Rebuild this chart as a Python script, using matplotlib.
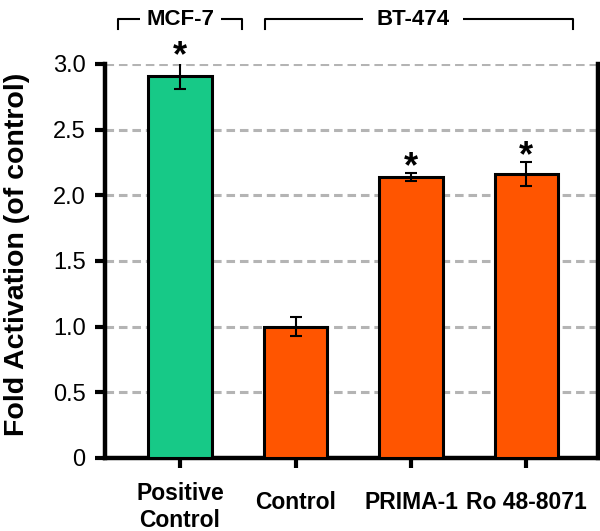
import numpy as np
import matplotlib.pyplot as plt

plt.rcParams['font.family'] = ['Liberation Sans', 'DejaVu Sans']

labels = ['Positive\nControl', 'Control', 'PRIMA-1', 'Ro 48-8071']
values = [2.91, 1.00, 2.14, 2.16]
errors = [0.10, 0.07, 0.03, 0.09]
colors = ['#17C987', '#FF5500', '#FF5500', '#FF5500']
significant = [True, False, True, True]
yticks = [0, 0.5, 1.0, 1.5, 2.0, 2.5, 3.0]
ytick_labels = ['0', '0.5', '1.0', '1.5', '2.0', '2.5', '3.0']

fig = plt.figure(figsize=(6, 5.31), dpi=100)
ax = fig.add_axes([0.175, 0.1375, 0.8217, 0.742])

x = np.arange(len(labels))
ax.bar(x, values, width=0.55, color=colors, edgecolor='black', linewidth=2.2, zorder=3)
ax.errorbar(x, values, yerr=errors, fmt='none', ecolor='black', elinewidth=1.5,
            capsize=4, capthick=1.5, zorder=4)

for xi, v, e, sig in zip(x, values, errors, significant):
    if sig:
        ax.text(xi, v + e - 0.03, '*', ha='center', va='baseline', fontsize=26,
                fontweight='bold')

ax.set_xlim(-0.65, 3.62)
ax.set_ylim(0, 3.0)
ax.set_yticks(yticks)
ax.set_yticklabels(ytick_labels, fontsize=17)
ax.tick_params(axis='y', length=7, width=3, pad=7)
ax.set_xticks(x)
ax.set_xticklabels([])
ax.tick_params(axis='x', length=7.5, width=3)

# category labels below the axis (single-line labels sit a bit lower)
for xi, lab in zip(x, labels):
    off = -17.5 if '\n' in lab else -23.5
    ax.annotate(lab, xy=(xi, 0), xycoords=('data', 'axes fraction'),
                xytext=(0, off), textcoords='offset points', ha='center', va='top',
                fontsize=16.5, fontweight='bold', linespacing=1.2,
                annotation_clip=False)

ax.yaxis.grid(True, color='#b4b4b4', linestyle=(0, (2.8, 1.6)), linewidth=2.2, zorder=0)
ax.set_axisbelow(True)

ax.spines['top'].set_visible(False)
for side in ['left', 'bottom', 'right']:
    ax.spines[side].set_linewidth(3.2)

ax.set_ylabel('Fold Activation (of control)', fontsize=20.5, fontweight='bold')
ax.yaxis.set_label_coords(-0.152, 0.516)

# group brackets above the plot
y_top, y_tip = 3.341, 3.267
groups = [('MCF-7', -0.534, 0.534, 0.004, 4.5), ('BT-474', 0.738, 3.403, 2.018, 10)]
for name, x0, x1, xc, gap in groups:
    ax.text(xc, y_top, name, ha='center', va='center', fontsize=16, fontweight='bold',
            clip_on=False, bbox=dict(facecolor='white', edgecolor='none', pad=gap),
            zorder=5)
    ax.plot([x0, x0, x1, x1], [y_tip, y_top, y_top, y_tip], color='black', linewidth=1.5,
            clip_on=False, zorder=1)

fig.savefig('out.png', dpi=100)
